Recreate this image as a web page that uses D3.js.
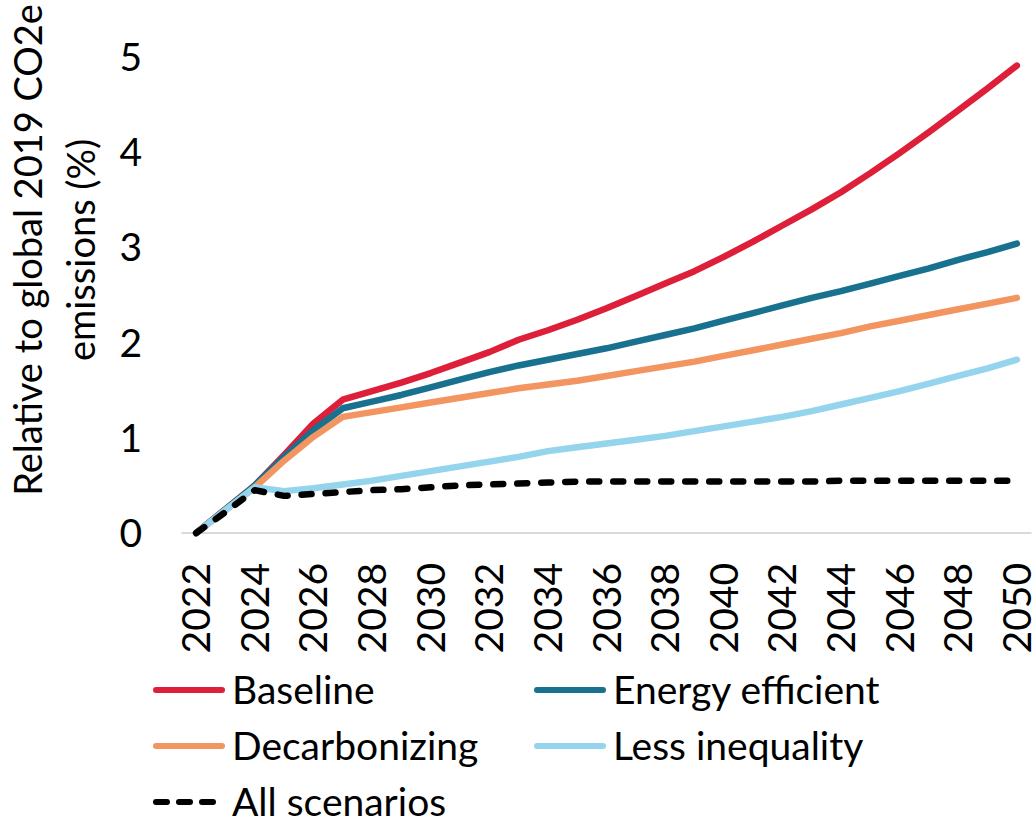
<!DOCTYPE html>
<html><head><meta charset="utf-8">
<script src="https://cdn.jsdelivr.net/npm/d3@7"></script>
<style>body{margin:0;background:#fff}svg{display:block;font-family:Lato,"Open Sans",sans-serif}</style>
</head><body><svg id="c" width="1035" height="822"></svg>
<script>
const years = d3.range(2022, 2051);
const baseline   = [0,0.25,0.50,0.82,1.15,1.40,1.49,1.58,1.68,1.79,1.90,2.03,2.13,2.24,2.36,2.49,2.62,2.75,2.90,3.06,3.23,3.40,3.58,3.78,3.99,4.21,4.44,4.67,4.91];
const energyEff  = [0,0.25,0.50,0.80,1.08,1.31,1.38,1.45,1.53,1.61,1.69,1.76,1.82,1.88,1.94,2.01,2.08,2.15,2.23,2.31,2.39,2.47,2.54,2.62,2.70,2.78,2.87,2.95,3.04];
const decarb     = [0,0.24,0.48,0.76,1.01,1.22,1.27,1.32,1.37,1.42,1.47,1.52,1.56,1.60,1.65,1.70,1.75,1.80,1.86,1.92,1.98,2.04,2.10,2.17,2.23,2.29,2.35,2.41,2.47];
const lessIneq   = [0,0.24,0.48,0.44,0.47,0.51,0.55,0.60,0.65,0.70,0.75,0.80,0.86,0.90,0.94,0.98,1.02,1.07,1.12,1.17,1.22,1.28,1.35,1.42,1.49,1.57,1.65,1.73,1.82];
const allScen    = [0,0.22,0.45,0.39,0.41,0.43,0.45,0.46,0.48,0.50,0.51,0.52,0.53,0.54,0.54,0.54,0.54,0.54,0.54,0.54,0.54,0.54,0.55,0.55,0.55,0.55,0.55,0.55,0.55];
const xTickLabels = d3.range(2022, 2051, 2);
const yTickLabels = [0,1,2,3,4,5];

const series = [
  {name:"Baseline", values:baseline, color:"#DD1F3A", dash:null},
  {name:"Energy efficient", values:energyEff, color:"#18718F", dash:null},
  {name:"Decarbonizing", values:decarb, color:"#F29560", dash:null},
  {name:"Less inequality", values:lessIneq, color:"#94D4EC", dash:null},
  {name:"All scenarios", values:allScen, color:"#000000", dash:"10,14"}
];

const svg = d3.select("#c");
const x = d3.scaleLinear().domain([2021.5, 2050.5]).range([181.5, 1031.5]);
const y = d3.scaleLinear().domain([0,5]).range([533, 57]);
const FS = 39;

// x axis line
svg.append("line").attr("x1",x(2021.5)).attr("x2",x(2050.5)).attr("y1",y(0)).attr("y2",y(0))
  .attr("stroke","#d9d9d9").attr("stroke-width",2);

// y ticks
svg.append("g").selectAll("text").data(yTickLabels).join("text")
  .attr("x",142).attr("y",d=>y(d)).attr("dy","0.36em").attr("text-anchor","end")
  .attr("font-size",FS).attr("fill","#000").text(d=>d);

// x ticks
svg.append("g").selectAll("text").data(xTickLabels).join("text")
  .attr("transform",d=>`translate(${x(d)},563) rotate(-90)`)
  .attr("dy","0.36em").attr("text-anchor","end")
  .attr("font-size",FS).attr("fill","#000").text(d=>d);

// y title
const yt = svg.append("text").attr("transform","translate(0,250) rotate(-90)")
  .attr("text-anchor","middle").attr("font-size",38).attr("fill","#000");
yt.append("tspan").attr("x",0).attr("y",42).text("Relative to global 2019 CO2e");
yt.append("tspan").attr("x",0).attr("y",95).text("emissions (%)");

// lines
const line = d3.line().x((d,i)=>x(years[i])).y(d=>y(d));
series.forEach(s=>{
  svg.append("path").datum(s.values).attr("d",line).attr("fill","none")
    .attr("stroke",s.color).attr("stroke-width",6.5)
    .attr("stroke-linecap","round").attr("stroke-linejoin","round")
    .attr("stroke-dasharray",s.dash);
});

// legend
const legPos = [[153,690],[534,690],[153,746],[534,746],[153,802]];
const order = ["Baseline","Energy efficient","Decarbonizing","Less inequality","All scenarios"];
order.forEach((n,i)=>{
  const s = series.find(d=>d.name===n);
  const [lx,ly] = legPos[i];
  svg.append("line").attr("x1",lx+3).attr("x2",lx+69).attr("y1",ly).attr("y2",ly)
    .attr("stroke",s.color).attr("stroke-width",6).attr("stroke-linecap","round")
    .attr("stroke-dasharray",s.dash ? "11,12" : null);
  svg.append("text").attr("x",lx+79).attr("y",ly).attr("dy","0.36em")
    .attr("font-size",FS).attr("fill","#000").text(n);
});
</script></body></html>
